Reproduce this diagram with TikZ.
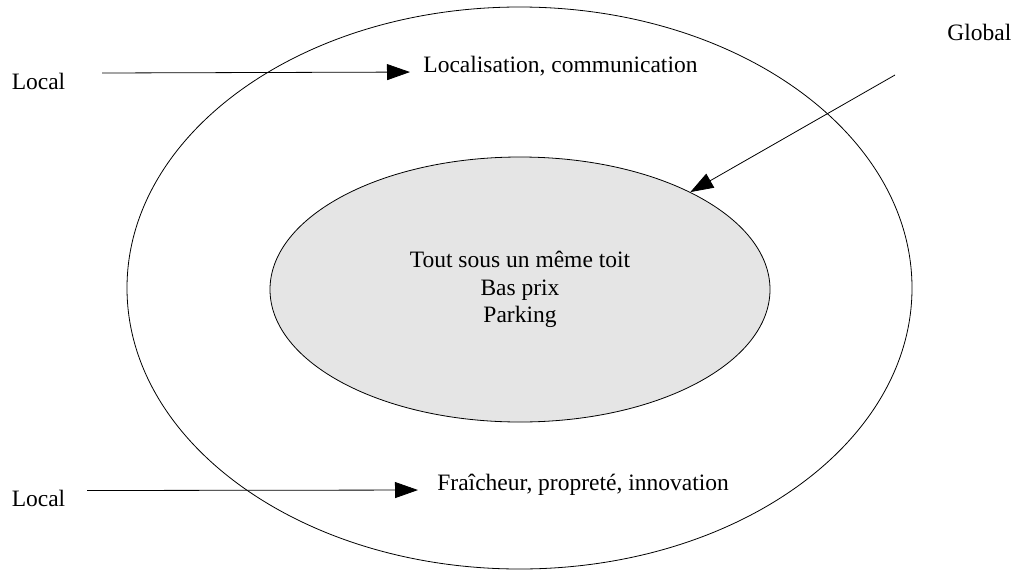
\documentclass[tikz,border=0pt]{standalone}
\usepackage{fontspec}
\setmainfont{Liberation Serif}
\usepackage{tikz}
\usetikzlibrary{
        arrows.meta,
        shapes.geometric,
        positioning
    }
\tikzset{>={Triangle[length=23pt,width=16pt]}}
\tikzset{txt/.style={inner sep=0pt,font=\fontsize{23.5}{27.5}\selectfont}}
\tikzset{ring/.style={draw,ellipse,inner sep=0pt}}

\begin{document}
\begin{tikzpicture}[x=1pt,y=-1pt,line width=0.8pt]
    \useasboundingbox (0,0) rectangle (1014,571);
    % the two circles
    \node[ring,minimum width=785pt,minimum height=562pt] (outer) at (519.5,288) {};
    \node[ring,txt,fill=black!10,align=center,minimum width=500pt,minimum height=265pt] (core) at (520,289.5)
        {Tout sous un même toit\\Bas prix\\Parking};
    % labels
    \node[txt] (ltop) at (38.5,81.5) {Local};
    \node[txt,anchor=base west] (locom) at (423,72) {Localisation, communication};
    \node[txt,anchor=base west] (global) at (947,40) {Global};
    \node[txt] (lbot) at (38.5,498.5) {Local};
    \node[txt,anchor=base west] (fresh) at (437,490) {Fraîcheur, propreté, innovation};
    % arrows
    \coordinate (ftop) at (102,73);
    \coordinate (fglob) at (895,75);
    \coordinate (fbot) at (87,490.5);
    \draw[->,shorten >=13pt] (ftop) -- (locom.base west);
    \draw[->] (fglob) -- (core);
    \draw[->,shorten >=19pt] (fbot) -- (fresh.base west);
\end{tikzpicture}
\end{document}
